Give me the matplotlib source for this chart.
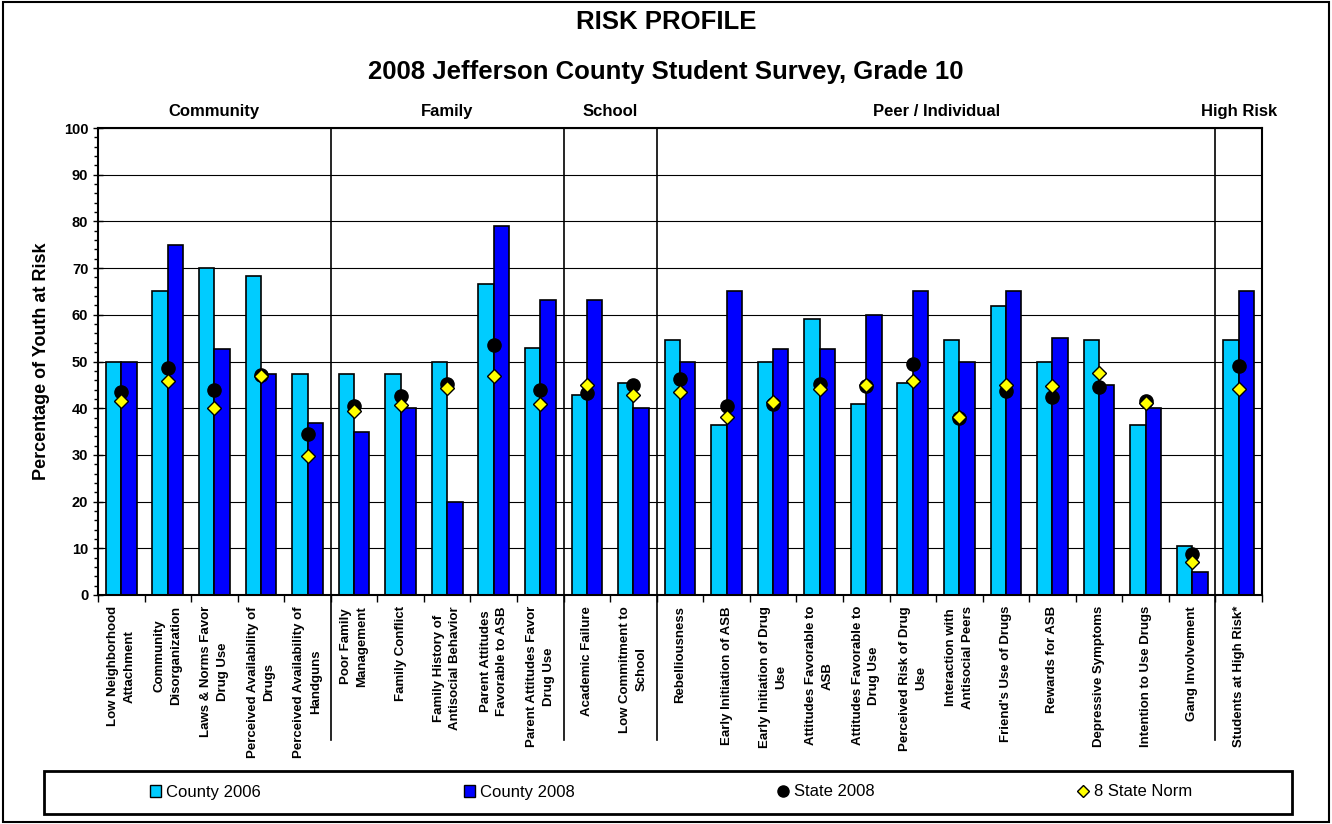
import numpy as np
import matplotlib
matplotlib.use("Agg")
import matplotlib.pyplot as plt
import matplotlib.transforms as mtransforms
from matplotlib.patches import Patch, Rectangle
from matplotlib.lines import Line2D

plt.rcParams['font.family'] = ['Liberation Sans', 'DejaVu Sans']

# risk factor names (line breaks as in the original)
labels = [
    "Low Neighborhood\nAttachment", "Community\nDisorganization", "Laws & Norms Favor\nDrug Use",
    "Perceived Availability of\nDrugs", "Perceived Availability of\nHandguns",
    "Poor Family\nManagement", "Family Conflict", "Family History of\nAntisocial Behavior",
    "Parent Attitudes\nFavorable to ASB", "Parent Attitudes Favor\nDrug Use",
    "Academic Failure", "Low Commitment to\nSchool",
    "Rebelliousness", "Early Initiation of ASB", "Early Initiation of Drug\nUse",
    "Attitudes Favorable to\nASB", "Attitudes Favorable to\nDrug Use", "Perceived Risk of Drug\nUse",
    "Interaction with\nAntisocial Peers", "Friend's Use of Drugs", "Rewards for ASB",
    "Depressive Symptoms", "Intention to Use Drugs", "Gang Involvement",
    "Students at High Risk*",
]
groups = ["Community", "Family", "School", "Peer / Individual", "High Risk"]
group_sizes = [5, 5, 2, 12, 1]

county_2006 = [50, 65, 70, 68.3, 47.3, 47.3, 47.3, 50, 66.6, 52.8, 42.8, 45.5,
               54.5, 36.4, 50, 59, 40.9, 45.5, 54.5, 61.8, 50, 54.5, 36.4, 10.5, 54.5]
county_2008 = [50, 75, 52.6, 47.4, 36.8, 35, 40, 20, 79, 63.2, 63.2, 40,
               50, 65, 52.6, 52.6, 60, 65, 50, 65, 55, 45, 40, 5, 65]
state_2008 = [43.5, 48.7, 44, 47.1, 34.5, 40.4, 42.6, 45.1, 53.5, 44, 43.3, 44.9,
              46.2, 40.4, 41, 45.1, 44.8, 49.5, 37.9, 43.7, 42.4, 44.6, 41.5, 8.7, 49]
state_norm = [41.5, 45.8, 40.1, 46.9, 29.7, 39.5, 40.7, 44.3, 46.9, 40.8, 44.9, 42.8,
              43.4, 38.1, 41.4, 44.1, 44.9, 45.9, 38.2, 45.0, 44.8, 47.5, 41.1, 7.0, 44.2]

light = '#00CCFF'
dark = '#0000FF'

fig = plt.figure(figsize=(13.32, 8.24), dpi=100)
ax = fig.add_axes([98 / 1332, (824 - 595) / 824, (1262 - 98) / 1332, (595 - 128) / 824])

x = np.arange(len(labels))
w = 0.33
ax.bar(x - w / 2, county_2006, w, color=light, edgecolor='black', linewidth=1.2, zorder=2)
ax.bar(x + w / 2, county_2008, w, color=dark, edgecolor='black', linewidth=1.2, zorder=2)
ax.plot(x, state_2008, 'o', color='black', markersize=9.5, zorder=3)
ax.plot(x, state_norm, 'D', color='#FFFF00', markeredgecolor='black', markeredgewidth=1,
        markersize=7, zorder=4)

ax.set_xlim(-0.5, len(labels) - 0.5)
ax.set_ylim(0, 100)
ax.set_yticks(np.arange(0, 101, 10))
ax.set_yticks(np.arange(0, 101, 2), minor=True)
ax.yaxis.grid(True, which='major', color='black', linewidth=0.8)
ax.set_axisbelow(True)
ax.tick_params(axis='y', which='major', direction='inout', length=7, width=1, labelsize=10.5)
ax.tick_params(axis='y', which='minor', direction='out', length=3, width=1)
for t in ax.get_yticklabels():
    t.set_fontweight('bold')
ax.set_ylabel('Percentage of Youth at Risk', fontsize=13, fontweight='bold', labelpad=10)

# tick marks on the category boundaries, labels in the middle
ax.set_xticks(np.arange(-0.5, len(labels), 1))
ax.set_xticklabels([])
ax.set_xticks(x, minor=True)
ax.set_xticklabels(labels, minor=True, rotation=90, fontsize=9.5, fontweight='bold',
                   va='top', ha='center', multialignment='center', linespacing=1.5)
ax.tick_params(axis='x', which='major', direction='out', length=5, width=1)
ax.tick_params(axis='x', which='minor', length=0, pad=8)

for s in ax.spines.values():
    s.set_linewidth(1.5)

# group dividers and group names
trans = mtransforms.blended_transform_factory(ax.transData, ax.transAxes)
edges = np.cumsum(group_sizes)
start = 0
for g, e in zip(groups, edges):
    ax.text((start + e - 1) / 2, 1.035, g, transform=trans, ha='center', va='center',
            fontsize=12, fontweight='bold')
    if e < len(labels):
        ax.plot([e - 0.5, e - 0.5], [1, -0.31], transform=trans, color='black',
                linewidth=1.2, clip_on=False, zorder=1)
    start = e

fig.text(0.5, 1 - 22 / 824, 'RISK PROFILE', ha='center', va='center', fontsize=18.5, fontweight='bold')
fig.text(0.5, 1 - 72 / 824, '2008 Jefferson County Student Survey, Grade 10', ha='center',
         va='center', fontsize=18.5, fontweight='bold')

# legend box
fig.patches.append(Rectangle((44 / 1332, 1 - 814 / 824), (1292 - 44) / 1332, 43 / 824,
                             transform=fig.transFigure, fill=False, edgecolor='black', linewidth=2))
handles = [
    Patch(facecolor=light, edgecolor='black', label='County 2006'),
    Patch(facecolor=dark, edgecolor='black', label='County 2008'),
    Line2D([], [], marker='o', color='black', linestyle='none', markersize=8, label='State 2008'),
    Line2D([], [], marker='D', color='#FFFF00', markeredgecolor='black', linestyle='none',
           markersize=6, label='8 State Norm'),
]
fig.legend(handles=handles, loc='center', bbox_to_anchor=(671 / 1332, 1 - 792 / 824), ncol=4,
           frameon=False, fontsize=12, handlelength=0.7, handleheight=0.7, handletextpad=0.3,
           columnspacing=12.15)

# outer frame
fig.patches.append(Rectangle((0.002, 0.002), 0.996, 0.996, transform=fig.transFigure,
                             fill=False, edgecolor='black', linewidth=1.5))

fig.savefig('out.png', dpi=100)
